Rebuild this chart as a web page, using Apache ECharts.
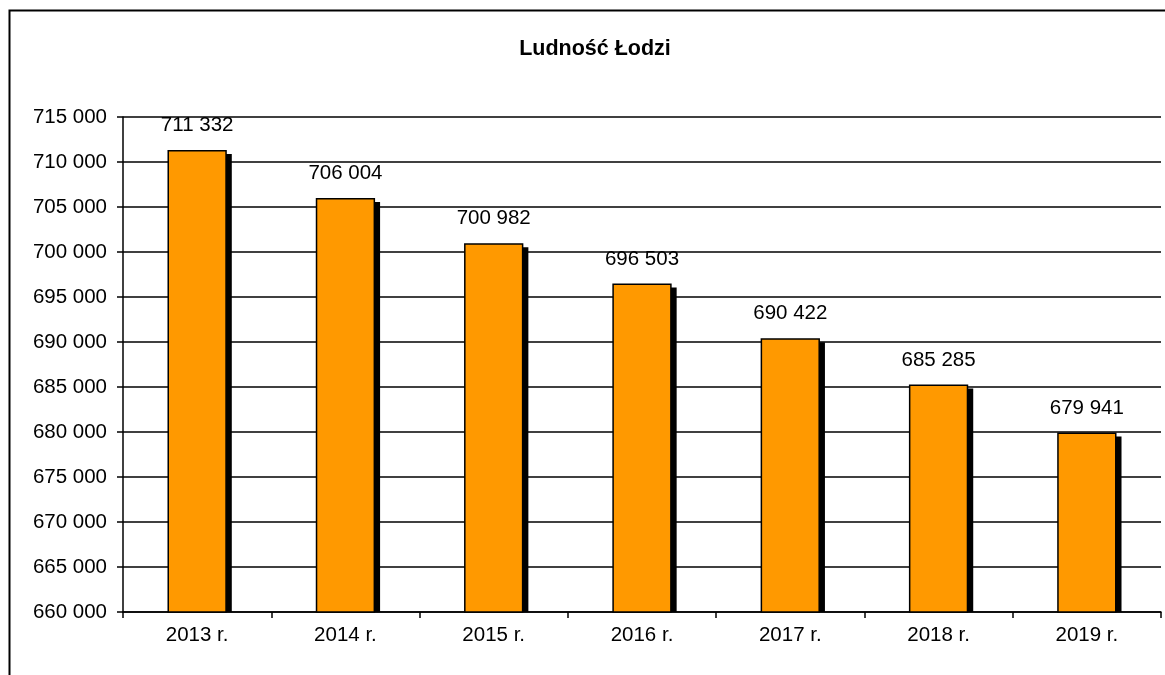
<!DOCTYPE html>
<html>
<head>
<meta charset="utf-8">
<script src="https://cdn.jsdelivr.net/npm/echarts@6/dist/echarts.min.js"></script>
<style>html,body{margin:0;padding:0;background:#fff}#c{width:1165px;height:675px}</style>
</head>
<body>
<div id="c"></div>
<script>
const titleText = 'Ludność Łodzi';
const categories = ['2013 r.', '2014 r.', '2015 r.', '2016 r.', '2017 r.', '2018 r.', '2019 r.'];
const population = [711332, 706004, 700982, 696503, 690422, 685285, 679941];
const yMin = 660000, yMax = 715000, yStep = 5000;

const fmt = v => String(v).replace(/\B(?=(\d{3})+(?!\d))/g, ' ');
const FONT = '"Liberation Sans", Arial, sans-serif';

const chart = echarts.init(document.getElementById('c'), null, {renderer: 'canvas'});
chart.setOption({
  animation: false,
  backgroundColor: '#fff',
  graphic: [{
    type: 'rect', z: 100, silent: true,
    shape: {x: 9.5, y: 10.5, width: 1300, height: 800},
    style: {fill: 'none', stroke: '#000', lineWidth: 2}
  }],
  title: {
    text: titleText, left: 590, top: 33, textAlign: 'center',
    textStyle: {fontFamily: FONT, fontWeight: 'bold', fontSize: 21.5, color: '#000'}
  },
  grid: {left: 123, right: 4, top: 117, bottom: 63, containLabel: false},
  xAxis: {
    type: 'category', data: categories,
    axisLine: {lineStyle: {color: '#000', width: 1.5}},
    axisTick: {show: true, length: 6, lineStyle: {color: '#000', width: 1.5}},
    axisLabel: {margin: 13, fontFamily: FONT, fontSize: 20.5, color: '#000'}
  },
  yAxis: {
    type: 'value', min: yMin, max: yMax, interval: yStep,
    axisLine: {show: true, lineStyle: {color: '#000', width: 1.5}},
    axisTick: {show: true, length: 6, lineStyle: {color: '#000', width: 1.5}},
    splitLine: {lineStyle: {color: '#000', width: 1.5}},
    axisLabel: {margin: 16, fontFamily: FONT, fontSize: 20.5, color: '#000', formatter: fmt}
  },
  series: [{
    type: 'custom', z: 1, silent: true,
    data: population.map((v, i) => [i, v]),
    renderItem: function (params, api) {
      const top = api.coord([api.value(0), api.value(1)]);
      const base = api.coord([api.value(0), yMin]);
      const bw = api.size([1, 0])[0] * 0.4;
      return {
        type: 'rect',
        shape: {x: top[0] - bw / 2 + 5, y: top[1] + 4, width: bw, height: base[1] - top[1] - 4},
        style: {fill: '#000'}
      };
    }
  }, {
    type: 'bar', z: 2, barWidth: '40%',
    data: population,
    itemStyle: {color: '#FF9900', borderColor: '#000', borderWidth: 1.5},
    label: {
      show: true, position: 'top', distance: 14, formatter: p => fmt(p.value),
      fontFamily: FONT, fontSize: 20.5, color: '#000'
    }
  }]
});
</script>
</body>
</html>
